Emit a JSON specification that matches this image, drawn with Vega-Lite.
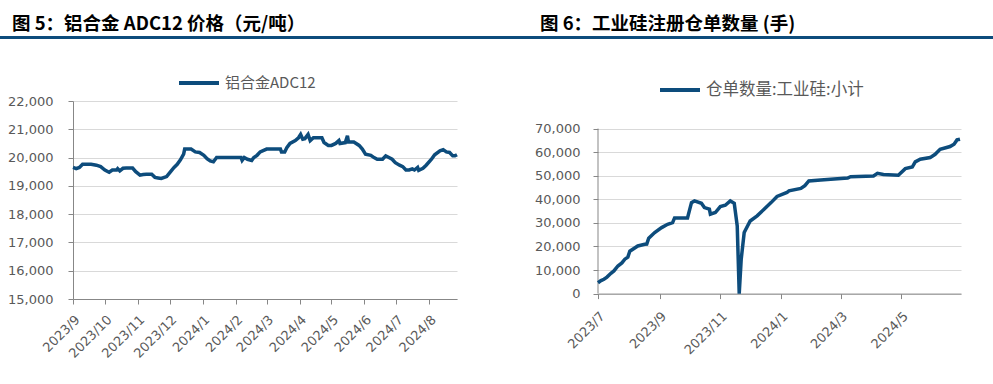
{
  "$schema": "https://vega.github.io/schema/vega-lite/v6.json",
  "background": "white",
  "padding": {"left": 0, "top": 15, "right": 0, "bottom": 0},
  "config": {
    "view": {"stroke": null},
    "font": "DejaVu Sans",
    "title": {"font": "Noto Sans CJK SC", "fontSize": 18.5, "fontWeight": "bold", "color": "#000000", "anchor": "start", "offset": 2.5},
    "axis": {"labelFont": "DejaVu Sans", "labelFontSize": 13, "labelColor": "#595959", "domainColor": "#878787", "tickColor": "#878787", "tickSize": 5, "gridColor": "#d9d9d9", "title": null, "labelOverlap": false},
    "axisX": {"grid": false, "labelAngle": -45, "labelPadding": 9},
    "axisY": {"grid": true},
    "legend": {"labelFont": "Noto Sans CJK SC", "labelColor": "#595959", "symbolType": "stroke", "symbolStrokeWidth": 4, "symbolSize": 1600, "labelOffset": 4, "title": null}
  },
  "spacing": 22,
  "vconcat": [
    {
      "spacing": 0,
      "hconcat": [
        {
          "width": 455, "height": 3,
          "title": {"text": "图 5：铝合金 ADC12 价格（元/吨）", "dx": 12},
          "data": {"values": [{"a": 0, "b": 1, "s": 0, "t": 1}]},
          "mark": {"type": "rect", "color": "#0d4c7c"},
          "encoding": {
            "x": {"field": "a", "type": "quantitative", "axis": null, "scale": {"domain": [0, 1], "nice": false, "range": [-73, 455]}},
            "x2": {"field": "b"},
            "y": {"field": "s", "type": "quantitative", "axis": null, "scale": {"domain": [0, 1], "nice": false}},
            "y2": {"field": "t"}
          }
        },
        {
          "width": 465, "height": 3,
          "title": {"text": "图 6：工业硅注册仓单数量 (手)", "dx": 12},
          "data": {"values": [{"a": 0, "b": 1, "s": 0, "t": 1}]},
          "mark": {"type": "rect", "color": "#0d4c7c"},
          "encoding": {
            "x": {"field": "a", "type": "quantitative", "axis": null, "scale": {"domain": [0, 1], "nice": false}},
            "x2": {"field": "b"},
            "y": {"field": "s", "type": "quantitative", "axis": null, "scale": {"domain": [0, 1], "nice": false}},
            "y2": {"field": "t"}
          }
        }
      ],
      "resolve": {"scale": {"x": "independent", "y": "independent"}}
    },
    {
      "spacing": 69,
      "resolve": {"scale": {"color": "independent", "x": "independent", "y": "independent"}, "legend": {"color": "independent"}},
      "hconcat": [
        {
          "width": 384, "height": 198,
          "data": {"values": [
            {"date": "2023-09-01", "value": 19650, "series": "铝合金ADC12"},
            {"date": "2023-09-04", "value": 19610, "series": "铝合金ADC12"},
            {"date": "2023-09-07", "value": 19650, "series": "铝合金ADC12"},
            {"date": "2023-09-10", "value": 19760, "series": "铝合金ADC12"},
            {"date": "2023-09-18", "value": 19760, "series": "铝合金ADC12"},
            {"date": "2023-09-23", "value": 19730, "series": "铝合金ADC12"},
            {"date": "2023-09-27", "value": 19680, "series": "铝合金ADC12"},
            {"date": "2023-10-01", "value": 19560, "series": "铝合金ADC12"},
            {"date": "2023-10-04", "value": 19500, "series": "铝合金ADC12"},
            {"date": "2023-10-05", "value": 19480, "series": "铝合金ADC12"},
            {"date": "2023-10-08", "value": 19560, "series": "铝合金ADC12"},
            {"date": "2023-10-12", "value": 19560, "series": "铝合金ADC12"},
            {"date": "2023-10-13", "value": 19610, "series": "铝合金ADC12"},
            {"date": "2023-10-15", "value": 19530, "series": "铝合金ADC12"},
            {"date": "2023-10-18", "value": 19620, "series": "铝合金ADC12"},
            {"date": "2023-10-21", "value": 19630, "series": "铝合金ADC12"},
            {"date": "2023-10-27", "value": 19630, "series": "铝合金ADC12"},
            {"date": "2023-10-30", "value": 19500, "series": "铝合金ADC12"},
            {"date": "2023-11-03", "value": 19380, "series": "铝合金ADC12"},
            {"date": "2023-11-06", "value": 19400, "series": "铝合金ADC12"},
            {"date": "2023-11-09", "value": 19410, "series": "铝合金ADC12"},
            {"date": "2023-11-14", "value": 19410, "series": "铝合金ADC12"},
            {"date": "2023-11-17", "value": 19300, "series": "铝合金ADC12"},
            {"date": "2023-11-20", "value": 19280, "series": "铝合金ADC12"},
            {"date": "2023-11-23", "value": 19260, "series": "铝合金ADC12"},
            {"date": "2023-11-28", "value": 19330, "series": "铝合金ADC12"},
            {"date": "2023-12-01", "value": 19470, "series": "铝合金ADC12"},
            {"date": "2023-12-05", "value": 19650, "series": "铝合金ADC12"},
            {"date": "2023-12-08", "value": 19760, "series": "铝合金ADC12"},
            {"date": "2023-12-11", "value": 19920, "series": "铝合金ADC12"},
            {"date": "2023-12-14", "value": 20120, "series": "铝合金ADC12"},
            {"date": "2023-12-15", "value": 20300, "series": "铝合金ADC12"},
            {"date": "2023-12-21", "value": 20300, "series": "铝合金ADC12"},
            {"date": "2023-12-25", "value": 20200, "series": "铝合金ADC12"},
            {"date": "2023-12-29", "value": 20180, "series": "铝合金ADC12"},
            {"date": "2024-01-02", "value": 20080, "series": "铝合金ADC12"},
            {"date": "2024-01-05", "value": 19960, "series": "铝合金ADC12"},
            {"date": "2024-01-08", "value": 19880, "series": "铝合金ADC12"},
            {"date": "2024-01-11", "value": 19850, "series": "铝合金ADC12"},
            {"date": "2024-01-14", "value": 20000, "series": "铝合金ADC12"},
            {"date": "2024-02-06", "value": 20000, "series": "铝合金ADC12"},
            {"date": "2024-02-07", "value": 19900, "series": "铝合金ADC12"},
            {"date": "2024-02-09", "value": 20000, "series": "铝合金ADC12"},
            {"date": "2024-02-12", "value": 19940, "series": "铝合金ADC12"},
            {"date": "2024-02-16", "value": 19900, "series": "铝合金ADC12"},
            {"date": "2024-02-18", "value": 20000, "series": "铝合金ADC12"},
            {"date": "2024-02-21", "value": 20080, "series": "铝合金ADC12"},
            {"date": "2024-02-24", "value": 20200, "series": "铝合金ADC12"},
            {"date": "2024-03-01", "value": 20300, "series": "铝合金ADC12"},
            {"date": "2024-03-14", "value": 20300, "series": "铝合金ADC12"},
            {"date": "2024-03-15", "value": 20200, "series": "铝合金ADC12"},
            {"date": "2024-03-18", "value": 20200, "series": "铝合金ADC12"},
            {"date": "2024-03-20", "value": 20350, "series": "铝合金ADC12"},
            {"date": "2024-03-23", "value": 20500, "series": "铝合金ADC12"},
            {"date": "2024-03-28", "value": 20600, "series": "铝合金ADC12"},
            {"date": "2024-03-31", "value": 20700, "series": "铝合金ADC12"},
            {"date": "2024-04-02", "value": 20820, "series": "铝合金ADC12"},
            {"date": "2024-04-04", "value": 20650, "series": "铝合金ADC12"},
            {"date": "2024-04-06", "value": 20670, "series": "铝合金ADC12"},
            {"date": "2024-04-09", "value": 20820, "series": "铝合金ADC12"},
            {"date": "2024-04-11", "value": 20600, "series": "铝合金ADC12"},
            {"date": "2024-04-14", "value": 20700, "series": "铝合金ADC12"},
            {"date": "2024-04-22", "value": 20700, "series": "铝合金ADC12"},
            {"date": "2024-04-24", "value": 20530, "series": "铝合金ADC12"},
            {"date": "2024-04-28", "value": 20430, "series": "铝合金ADC12"},
            {"date": "2024-05-01", "value": 20430, "series": "铝合金ADC12"},
            {"date": "2024-05-05", "value": 20500, "series": "铝合金ADC12"},
            {"date": "2024-05-08", "value": 20600, "series": "铝合金ADC12"},
            {"date": "2024-05-09", "value": 20500, "series": "铝合金ADC12"},
            {"date": "2024-05-14", "value": 20530, "series": "铝合金ADC12"},
            {"date": "2024-05-16", "value": 20770, "series": "铝合金ADC12"},
            {"date": "2024-05-17", "value": 20550, "series": "铝合金ADC12"},
            {"date": "2024-05-22", "value": 20550, "series": "铝合金ADC12"},
            {"date": "2024-05-27", "value": 20430, "series": "铝合金ADC12"},
            {"date": "2024-05-30", "value": 20300, "series": "铝合金ADC12"},
            {"date": "2024-06-02", "value": 20120, "series": "铝合金ADC12"},
            {"date": "2024-06-07", "value": 20080, "series": "铝合金ADC12"},
            {"date": "2024-06-10", "value": 20000, "series": "铝合金ADC12"},
            {"date": "2024-06-13", "value": 19940, "series": "铝合金ADC12"},
            {"date": "2024-06-18", "value": 19940, "series": "铝合金ADC12"},
            {"date": "2024-06-21", "value": 20060, "series": "铝合金ADC12"},
            {"date": "2024-06-24", "value": 20000, "series": "铝合金ADC12"},
            {"date": "2024-06-27", "value": 19940, "series": "铝合金ADC12"},
            {"date": "2024-06-30", "value": 19820, "series": "铝合金ADC12"},
            {"date": "2024-07-04", "value": 19730, "series": "铝合金ADC12"},
            {"date": "2024-07-07", "value": 19680, "series": "铝合金ADC12"},
            {"date": "2024-07-10", "value": 19560, "series": "铝合金ADC12"},
            {"date": "2024-07-13", "value": 19560, "series": "铝合金ADC12"},
            {"date": "2024-07-16", "value": 19600, "series": "铝合金ADC12"},
            {"date": "2024-07-18", "value": 19560, "series": "铝合金ADC12"},
            {"date": "2024-07-21", "value": 19650, "series": "铝合金ADC12"},
            {"date": "2024-07-22", "value": 19550, "series": "铝合金ADC12"},
            {"date": "2024-07-26", "value": 19620, "series": "铝合金ADC12"},
            {"date": "2024-07-29", "value": 19730, "series": "铝合金ADC12"},
            {"date": "2024-08-03", "value": 19940, "series": "铝合金ADC12"},
            {"date": "2024-08-06", "value": 20100, "series": "铝合金ADC12"},
            {"date": "2024-08-11", "value": 20240, "series": "铝合金ADC12"},
            {"date": "2024-08-14", "value": 20280, "series": "铝合金ADC12"},
            {"date": "2024-08-17", "value": 20200, "series": "铝合金ADC12"},
            {"date": "2024-08-20", "value": 20180, "series": "铝合金ADC12"},
            {"date": "2024-08-23", "value": 20060, "series": "铝合金ADC12"},
            {"date": "2024-08-25", "value": 20060, "series": "铝合金ADC12"},
            {"date": "2024-08-27", "value": 20100, "series": "铝合金ADC12"}
          ]},
          "mark": {"type": "line", "strokeWidth": 3.5},
          "encoding": {
            "x": {"field": "date", "type": "temporal",
                  "scale": {"type": "utc", "domain": [{"year": 2023, "month": 9, "date": 1, "utc": true}, {"year": 2024, "month": 8, "date": 27, "utc": true}]},
                  "axis": {"format": "%Y/%-m", "values": [
                    {"year": 2023, "month": 9, "date": 1, "utc": true},
                    {"year": 2023, "month": 10, "date": 1, "utc": true},
                    {"year": 2023, "month": 11, "date": 1, "utc": true},
                    {"year": 2023, "month": 12, "date": 1, "utc": true},
                    {"year": 2024, "month": 1, "date": 1, "utc": true},
                    {"year": 2024, "month": 2, "date": 1, "utc": true},
                    {"year": 2024, "month": 3, "date": 1, "utc": true},
                    {"year": 2024, "month": 4, "date": 1, "utc": true},
                    {"year": 2024, "month": 5, "date": 1, "utc": true},
                    {"year": 2024, "month": 6, "date": 1, "utc": true},
                    {"year": 2024, "month": 7, "date": 1, "utc": true},
                    {"year": 2024, "month": 8, "date": 1, "utc": true}
                  ]}},
            "y": {"field": "value", "type": "quantitative",
                  "scale": {"domain": [15000, 22000], "zero": false, "nice": false},
                  "axis": {"values": [15000, 16000, 17000, 18000, 19000, 20000, 21000, 22000], "format": ",.0f", "minExtent": 73, "labelPadding": 15}},
            "color": {"field": "series", "type": "nominal", "scale": {"range": ["#0d4c7c"]},
                      "legend": {"orient": "none", "legendX": 104, "legendY": -40, "labelFontSize": 15}}
          }
        },
        {
          "width": 363, "height": 192.6,
          "encoding": {
            "x": {"field": "date", "type": "temporal",
                  "scale": {"type": "utc", "domain": [{"year": 2023, "month": 7, "date": 1, "utc": true}, {"year": 2024, "month": 6, "date": 30, "utc": true}]},
                  "axis": {"format": "%Y/%-m", "labelPadding": 11, "values": [
                    {"year": 2023, "month": 7, "date": 1, "utc": true},
                    {"year": 2023, "month": 9, "date": 1, "utc": true},
                    {"year": 2023, "month": 11, "date": 1, "utc": true},
                    {"year": 2024, "month": 1, "date": 1, "utc": true},
                    {"year": 2024, "month": 3, "date": 1, "utc": true},
                    {"year": 2024, "month": 5, "date": 1, "utc": true}
                  ]}},
            "y": {"field": "value", "type": "quantitative",
                  "scale": {"domain": [0, 81709], "nice": false},
                  "axis": {"values": [0, 10000, 20000, 30000, 40000, 50000, 60000, 70000], "format": ",.0f", "minExtent": 65, "labelPadding": 13, "domain": false}}
          },
          "layer": [
            {
              "data": {"values": [
                {"date": "2023-07-01", "value": 0, "value2": 70000}
              ]},
              "mark": {"type": "rule", "color": "#878787", "strokeWidth": 1},
              "encoding": {
                "y2": {"field": "value2"}
              }
            },
            {
              "data": {"values": [
                {"date": "2023-07-01", "value": 4600, "series": "仓单数量:工业硅:小计"},
                {"date": "2023-07-04", "value": 5500, "series": "仓单数量:工业硅:小计"},
                {"date": "2023-07-07", "value": 6100, "series": "仓单数量:工业硅:小计"},
                {"date": "2023-07-10", "value": 7000, "series": "仓单数量:工业硅:小计"},
                {"date": "2023-07-14", "value": 8600, "series": "仓单数量:工业硅:小计"},
                {"date": "2023-07-17", "value": 9600, "series": "仓单数量:工业硅:小计"},
                {"date": "2023-07-21", "value": 11700, "series": "仓单数量:工业硅:小计"},
                {"date": "2023-07-25", "value": 13000, "series": "仓单数量:工业硅:小计"},
                {"date": "2023-07-28", "value": 14600, "series": "仓单数量:工业硅:小计"},
                {"date": "2023-07-31", "value": 15500, "series": "仓单数量:工业硅:小计"},
                {"date": "2023-08-02", "value": 18000, "series": "仓单数量:工业硅:小计"},
                {"date": "2023-08-10", "value": 20200, "series": "仓单数量:工业硅:小计"},
                {"date": "2023-08-17", "value": 20900, "series": "仓单数量:工业硅:小计"},
                {"date": "2023-08-19", "value": 21000, "series": "仓单数量:工业硅:小计"},
                {"date": "2023-08-21", "value": 23500, "series": "仓单数量:工业硅:小计"},
                {"date": "2023-08-27", "value": 25900, "series": "仓单数量:工业硅:小计"},
                {"date": "2023-09-03", "value": 28000, "series": "仓单数量:工业硅:小计"},
                {"date": "2023-09-09", "value": 29400, "series": "仓单数量:工业硅:小计"},
                {"date": "2023-09-14", "value": 30100, "series": "仓单数量:工业硅:小计"},
                {"date": "2023-09-16", "value": 32100, "series": "仓单数量:工业硅:小计"},
                {"date": "2023-09-29", "value": 32100, "series": "仓单数量:工业硅:小计"},
                {"date": "2023-10-03", "value": 38600, "series": "仓单数量:工业硅:小计"},
                {"date": "2023-10-06", "value": 39300, "series": "仓单数量:工业硅:小计"},
                {"date": "2023-10-13", "value": 38300, "series": "仓单数量:工业硅:小计"},
                {"date": "2023-10-16", "value": 36500, "series": "仓单数量:工业硅:小计"},
                {"date": "2023-10-21", "value": 35800, "series": "仓单数量:工业硅:小计"},
                {"date": "2023-10-22", "value": 33700, "series": "仓单数量:工业硅:小计"},
                {"date": "2023-10-27", "value": 34400, "series": "仓单数量:工业硅:小计"},
                {"date": "2023-11-01", "value": 36900, "series": "仓单数量:工业硅:小计"},
                {"date": "2023-11-06", "value": 37500, "series": "仓单数量:工业硅:小计"},
                {"date": "2023-11-11", "value": 39300, "series": "仓单数量:工业硅:小计"},
                {"date": "2023-11-15", "value": 38300, "series": "仓单数量:工业硅:小计"},
                {"date": "2023-11-18", "value": 28700, "series": "仓单数量:工业硅:小计"},
                {"date": "2023-11-20", "value": 0, "series": "仓单数量:工业硅:小计"},
                {"date": "2023-11-22", "value": 14600, "series": "仓单数量:工业硅:小计"},
                {"date": "2023-11-25", "value": 25900, "series": "仓单数量:工业硅:小计"},
                {"date": "2023-12-01", "value": 30800, "series": "仓单数量:工业硅:小计"},
                {"date": "2023-12-08", "value": 33000, "series": "仓单数量:工业硅:小计"},
                {"date": "2023-12-15", "value": 35800, "series": "仓单数量:工业硅:小计"},
                {"date": "2023-12-22", "value": 38600, "series": "仓单数量:工业硅:小计"},
                {"date": "2023-12-28", "value": 41200, "series": "仓单数量:工业硅:小计"},
                {"date": "2024-01-07", "value": 42900, "series": "仓单数量:工业硅:小计"},
                {"date": "2024-01-09", "value": 43600, "series": "仓单数量:工业硅:小计"},
                {"date": "2024-01-21", "value": 44600, "series": "仓单数量:工业硅:小计"},
                {"date": "2024-01-25", "value": 45800, "series": "仓单数量:工业硅:小计"},
                {"date": "2024-01-29", "value": 47800, "series": "仓单数量:工业硅:小计"},
                {"date": "2024-02-10", "value": 48200, "series": "仓单数量:工业硅:小计"},
                {"date": "2024-02-20", "value": 48500, "series": "仓单数量:工业硅:小计"},
                {"date": "2024-03-08", "value": 49000, "series": "仓单数量:工业硅:小计"},
                {"date": "2024-03-11", "value": 49600, "series": "仓单数量:工业硅:小计"},
                {"date": "2024-04-03", "value": 49900, "series": "仓单数量:工业硅:小计"},
                {"date": "2024-04-07", "value": 51000, "series": "仓单数量:工业硅:小计"},
                {"date": "2024-04-13", "value": 50500, "series": "仓单数量:工业硅:小计"},
                {"date": "2024-04-28", "value": 50200, "series": "仓单数量:工业硅:小计"},
                {"date": "2024-05-05", "value": 53000, "series": "仓单数量:工业硅:小计"},
                {"date": "2024-05-12", "value": 53700, "series": "仓单数量:工业硅:小计"},
                {"date": "2024-05-15", "value": 55900, "series": "仓单数量:工业硅:小计"},
                {"date": "2024-05-20", "value": 57000, "series": "仓单数量:工业硅:小计"},
                {"date": "2024-05-30", "value": 57700, "series": "仓单数量:工业硅:小计"},
                {"date": "2024-06-04", "value": 59100, "series": "仓单数量:工业硅:小计"},
                {"date": "2024-06-09", "value": 61200, "series": "仓单数量:工业硅:小计"},
                {"date": "2024-06-19", "value": 62400, "series": "仓单数量:工业硅:小计"},
                {"date": "2024-06-23", "value": 63400, "series": "仓单数量:工业硅:小计"},
                {"date": "2024-06-26", "value": 65200, "series": "仓单数量:工业硅:小计"},
                {"date": "2024-06-29", "value": 65500, "series": "仓单数量:工业硅:小计"}
              ]},
              "mark": {"type": "line", "strokeWidth": 3.5},
              "encoding": {
                "color": {"field": "series", "type": "nominal", "scale": {"range": ["#0d4c7c"]},
                          "legend": {"orient": "none", "legendX": 60, "legendY": -33, "labelFontSize": 16.5}}
              }
            }
          ]
        }
      ]
    }
  ]
}
